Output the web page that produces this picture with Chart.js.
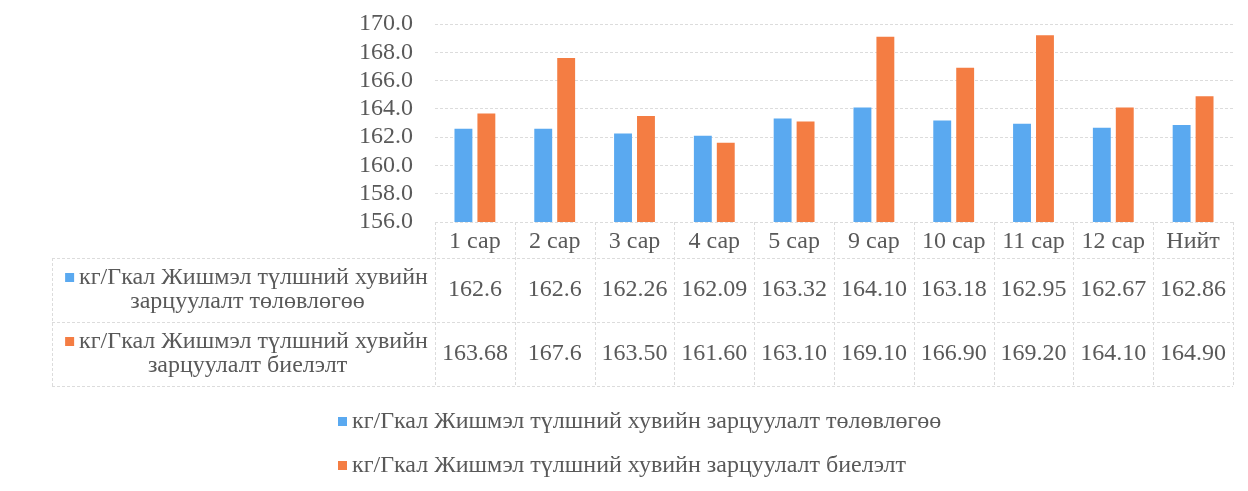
<!DOCTYPE html>
<html>
<head>
<meta charset="utf-8">
<script src="https://cdn.jsdelivr.net/npm/chart.js@4"></script>
<style>
  html, body { margin: 0; padding: 0; background: #fff; }
  #wrap { width: 1248px; height: 491px; }
</style>
</head>
<body>
<div id="wrap"><canvas id="chart" width="1248" height="491"></canvas></div>
<script>
'use strict';

const categories = ['1 сар', '2 сар', '3 сар', '4 сар', '5 сар', '9 сар', '10 сар', '11 сар', '12 сар', 'Нийт'];
const planValues = [162.6, 162.6, 162.26, 162.09, 163.32, 164.10, 163.18, 162.95, 162.67, 162.86];
const actualValues = [163.68, 167.6, 163.50, 161.60, 163.10, 169.10, 166.90, 169.20, 164.10, 164.90];
// values as printed in the data table
const planLabels = ['162.6', '162.6', '162.26', '162.09', '163.32', '164.10', '163.18', '162.95', '162.67', '162.86'];
const actualLabels = ['163.68', '167.6', '163.50', '161.60', '163.10', '169.10', '166.90', '169.20', '164.10', '164.90'];
const planName = 'кг/Гкал Жишмэл түлшний хувийн зарцуулалт төлөвлөгөө';
const actualName = 'кг/Гкал Жишмэл түлшний хувийн зарцуулалт биелэлт';
const planLines = ['кг/Гкал Жишмэл түлшний хувийн', 'зарцуулалт төлөвлөгөө'];
const actualLines = ['кг/Гкал Жишмэл түлшний хувийн', 'зарцуулалт биелэлт'];

const BLUE = '#5aa9f0';
const ORANGE = '#f47d43';
const TEXT = '#595959';
const LINE = '#dcdcdc';
const FAMILY = '"Liberation Serif", "DejaVu Serif", serif';
const FONT = '24px ' + FAMILY;

const tablePlugin = {
  id: 'dataTable',
  afterDraw(chart) {
    const ctx = chart.ctx;
    const area = chart.chartArea;
    const x = chart.scales.x;
    const colW = (area.right - area.left) / categories.length;
    const tableLeft = 52;
    const top = area.bottom;
    const r1 = top + 36;
    const r2 = r1 + 64;
    const r3 = r2 + 64;

    ctx.save();
    ctx.strokeStyle = LINE;
    ctx.lineWidth = 1;
    ctx.setLineDash([3, 2]);
    ctx.beginPath();
    for (let i = 0; i <= categories.length; i++) {
      const px = Math.round(area.left + i * colW) + 0.5;
      ctx.moveTo(px, top);
      ctx.lineTo(px, r3);
    }
    ctx.moveTo(tableLeft + 0.5, r1);
    ctx.lineTo(tableLeft + 0.5, r3);
    [r1, r2, r3].forEach(y => {
      ctx.moveTo(tableLeft, y + 0.5);
      ctx.lineTo(area.right, y + 0.5);
    });
    ctx.stroke();
    ctx.setLineDash([]);

    ctx.font = FONT;
    ctx.fillStyle = TEXT;
    ctx.textAlign = 'center';
    ctx.textBaseline = 'middle';
    categories.forEach((c, i) => {
      const cx = x.getPixelForValue(i);
      ctx.fillText(c, cx, (top + r1) / 2 + 2);
      ctx.fillText(planLabels[i], cx, (r1 + r2) / 2);
      ctx.fillText(actualLabels[i], cx, (r2 + r3) / 2);
    });

    const labelCx = (tableLeft + area.left) / 2 + 4;
    const drawRowLabel = (lines, color, yMid) => {
      ctx.textAlign = 'center';
      ctx.fillStyle = TEXT;
      ctx.fillText(lines[0], labelCx + 6, yMid - 12);
      ctx.fillText(lines[1], labelCx, yMid + 12);
      const w = ctx.measureText(lines[0]).width;
      ctx.fillStyle = color;
      ctx.fillRect(labelCx + 6 - w / 2 - 14, yMid - 17, 9, 9);
    };
    drawRowLabel(planLines, BLUE, (r1 + r2) / 2);
    drawRowLabel(actualLines, ORANGE, (r2 + r3) / 2);

    // legend
    const legX = 338;
    const legend = [[planName, BLUE, 422], [actualName, ORANGE, 466]];
    ctx.textAlign = 'left';
    legend.forEach(([name, color, y]) => {
      ctx.fillStyle = color;
      ctx.fillRect(legX, y - 5, 9, 9);
      ctx.fillStyle = TEXT;
      ctx.fillText(name, legX + 14, y);
    });
    ctx.restore();
  }
};

const ctx = document.getElementById('chart').getContext('2d');
new Chart(ctx, {
  type: 'bar',
  data: {
    labels: categories,
    datasets: [
      { label: planName, data: planValues, backgroundColor: BLUE },
      { label: actualName, data: actualValues, backgroundColor: ORANGE }
    ]
  },
  options: {
    responsive: false,
    animation: false,
    layout: { padding: { left: 0, right: 15, top: 24, bottom: 269 } },
    datasets: {
      bar: { categoryPercentage: 0.575, barPercentage: 0.78 }
    },
    plugins: {
      legend: { display: false },
      tooltip: { enabled: false }
    },
    scales: {
      x: { display: false },
      y: {
        min: 156,
        max: 170,
        afterFit(scale) {
          scale.width = 435;
          scale.paddingTop = 0;
          scale.paddingBottom = 0;
        },
        border: { display: false, dash: [3, 2] },
        grid: { color: LINE, drawTicks: false },
        ticks: {
          stepSize: 2,
          autoSkip: false,
          padding: 22,
          color: TEXT,
          font: { family: FAMILY, size: 24 },
          callback: v => v.toFixed(1)
        }
      }
    }
  },
  plugins: [tablePlugin]
});
</script>
</body>
</html>
